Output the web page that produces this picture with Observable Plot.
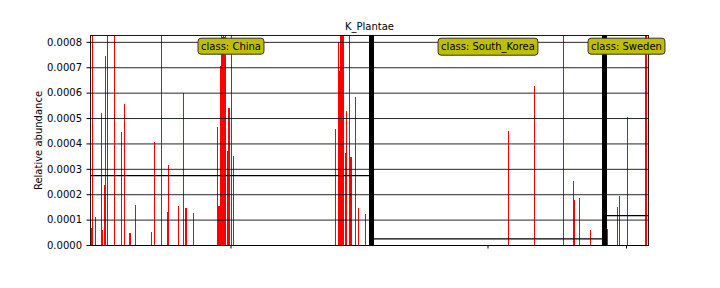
<!DOCTYPE html>
<html><head><meta charset="utf-8">
<script src="https://cdn.jsdelivr.net/npm/d3@7"></script>
<script src="https://cdn.jsdelivr.net/npm/@observablehq/plot@0.6"></script>
<style>
body{margin:0;background:#fff;}
svg{display:block;}
</style>
</head><body><div id="chart"></div>
<script>
const title = "K_Plantae";
const yLabel = "Relative abundance";
const classNames = ["China", "South_Korea", "Sweden"];
const classSizes = [281, 233, 44];
const classMeans = [0.000275, 0.000026, 0.000118];
const yTicks = [0, 0.0001, 0.0002, 0.0003, 0.0004, 0.0005, 0.0006, 0.0007, 0.0008];
const yMax = 0.000827;

// sample positions (within class) with non-zero abundance, and their values
const chinaIdx = [1, 2, 5, 11, 12, 14, 15, 17, 24, 31, 34, 39, 40, 45, 61, 64, 71, 77, 78, 88, 93, 95, 96, 103,
  127, 128, 129, 130, 131, 132, 133, 134, 135, 137, 138, 139, 141, 143,
  245, 248, 249, 250, 251, 252, 253, 255, 256, 259, 260, 261, 265, 268, 275];
const chinaVal = [0.000068, 0.0016, 0.00011, 0.00052, 0.000059, 0.000238, 0.000746, 0.0011, 0.0013, 0.000445, 0.000557, 0.000049, 0.000049, 0.000158, 0.000052, 0.000406, 0.0009, 0.000131, 0.000315, 0.000154, 0.000597, 0.000146, 0.000146, 0.000126,
  0.000465, 0.000154, 0.000154, 0.000703, 0.0014, 0.00082, 0.0015, 0.00082, 0.0011, 0.00037, 0.00054, 0.00054, 0.0012, 0.00035,
  0.000457, 0.0008, 0.000687, 0.0017, 0.0021, 0.0013, 0.0011, 0.000362, 0.000528, 0.00095, 0.000347, 0.000347, 0.000583, 0.000146, 0.000123];
const koreaIdx = [137, 163, 192, 202, 203, 208, 219];
const koreaVal = [0.000449, 0.000627, 0.0012, 0.000252, 0.000177, 0.000185, 0.000059];
const swedenIdx = [3, 13, 15, 23, 41, 42];
const swedenVal = [0.000063, 0.00015, 0.000193, 0.000504, 0.0011, 0.0014];

const idxs = [chinaIdx, koreaIdx, swedenIdx];
const vals = [chinaVal, koreaVal, swedenVal];
const starts = classSizes.map((_, i) => d3.sum(classSizes.slice(0, i)));
const total = d3.sum(classSizes);
const bars = idxs.flatMap((ix, c) => ix.map((p, k) => ({x1: starts[c] + p, x2: starts[c] + p + 1, y: vals[c][k]})));
const classes = classNames.map((name, c) => ({
  label: "class: " + name,
  start: starts[c], end: starts[c] + classSizes[c],
  center: starts[c] + classSizes[c] / 2,
  mean: classMeans[c]
}));
const boundaries = classes.slice(1).map(d => d.start);

const plot = Plot.plot({
  width: 720, height: 288,
  marginLeft: 90, marginRight: 72, marginTop: 35, marginBottom: 43,
  style: {fontFamily: "DejaVu Sans", fontSize: "10px", color: "#000", background: "#fff"},
  x: {domain: [0, total]},
  y: {domain: [0, yMax]},
  marks: [
    Plot.rectY(bars, {x1: "x1", x2: "x2", y: "y", fill: "red", clip: true, shapeRendering: "crispEdges"}),
    Plot.ruleY(yTicks, {stroke: "#000", strokeOpacity: 0.85}),
    Plot.ruleY(classes, {x1: "start", x2: "end", y: "mean", stroke: "#000", strokeWidth: 1.3}),
    Plot.ruleX(boundaries, {stroke: "#000", strokeWidth: 5}),
    Plot.frame({stroke: "#000", strokeOpacity: 0.9}),
    Plot.axisY({ticks: yTicks, tickFormat: d3.format(".4f"), tickSize: 3.5, tickPadding: 5, label: yLabel, labelAnchor: "center", labelArrow: "none", labelOffset: 56}),
    Plot.axisX(classes.map(d => d.center), {tickFormat: () => "", tickSize: 3.5, label: null}),
    Plot.text([title], {frameAnchor: "top", lineAnchor: "middle", dy: -9, fontSize: 10, fill: "#000"}),
    Plot.text(classes, {x: "center", frameAnchor: "top", lineAnchor: "middle", dy: 11, text: "label", fontSize: 10, fill: "#000", ariaDescription: "class-labels"})
  ]
});
document.getElementById("chart").appendChild(plot);

d3.select(plot).selectAll('g[aria-description="class-labels"] text').each(function() {
  const b = this.getBBox();
  const r = document.createElementNS("http://www.w3.org/2000/svg", "rect");
  r.setAttribute("x", b.x - 3);
  r.setAttribute("y", b.y - 2.5);
  r.setAttribute("width", b.width + 6);
  r.setAttribute("height", b.height + 5);
  r.setAttribute("rx", 3);
  r.setAttribute("fill", "#bfbf00");
  r.setAttribute("stroke", "#333");
  r.setAttribute("stroke-width", 1);
  const t = this.getAttribute("transform");
  if (t) r.setAttribute("transform", t);
  this.parentNode.insertBefore(r, this);
});
</script>
</body></html>
